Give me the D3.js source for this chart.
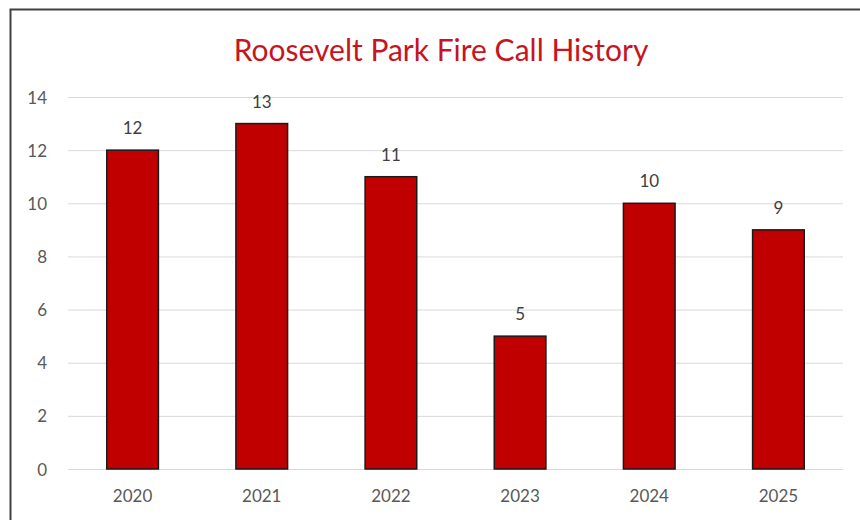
<!DOCTYPE html>
<html>
<head>
<meta charset="utf-8">
<script src="https://cdn.jsdelivr.net/npm/d3@7"></script>
<style>
  html, body { margin: 0; padding: 0; background: #fff; }
  svg { display: block; }
</style>
</head>
<body>
<svg id="chart" width="860" height="520"></svg>
<script>
// Fire calls per year at Roosevelt Park
const years = ["2020", "2021", "2022", "2023", "2024", "2025"];
const calls = [12, 13, 11, 5, 10, 9];
const yTicks = [0, 2, 4, 6, 8, 10, 12, 14];
const title = "Roosevelt Park Fire Call History";

const svg = d3.select("#chart");
const W = 860, H = 520;
const font = "Lato, 'Open Sans', sans-serif";

// chart frame
svg.append("rect")
  .attr("x", 10.5).attr("y", 9.5)
  .attr("width", W + 10).attr("height", H + 10)
  .attr("fill", "#fff")
  .attr("stroke", "#404040")
  .attr("stroke-width", 2);

const plot = { left: 68, right: 843, top: 97, bottom: 469 };

const x = d3.scaleBand()
  .domain(years)
  .range([plot.left, plot.right])
  .paddingInner(0.6)
  .paddingOuter(0.3);

const y = d3.scaleLinear()
  .domain([0, 14])
  .range([plot.bottom, plot.top]);

// horizontal gridlines
svg.append("g")
  .selectAll("line")
  .data(yTicks)
  .join("line")
  .attr("x1", plot.left).attr("x2", plot.right)
  .attr("y1", d => y(d) + 0.5).attr("y2", d => y(d) + 0.5)
  .attr("stroke", "#d9d9d9")
  .attr("stroke-width", 1);

// y axis labels
const yAxis = d3.axisLeft(y).tickValues(yTicks).tickSize(0).tickPadding(0);
const gy = svg.append("g")
  .attr("transform", `translate(${plot.left - 21},0)`)
  .call(yAxis);
gy.select(".domain").remove();
gy.selectAll("text")
  .attr("font-family", font)
  .attr("font-size", 17)
  .attr("dy", "0.36em")
  .attr("fill", "#595959");

// x axis labels
const xAxis = d3.axisBottom(x).tickSize(0).tickPadding(0);
const gx = svg.append("g")
  .attr("transform", `translate(0,${plot.bottom + 21})`)
  .call(xAxis);
gx.select(".domain").remove();
gx.selectAll("text")
  .attr("font-family", font)
  .attr("font-size", 17)
  .attr("fill", "#595959");

// bars
svg.append("g")
  .selectAll("rect")
  .data(years.map((yr, i) => ({ yr, v: calls[i] })))
  .join("rect")
  .attr("x", d => x(d.yr))
  .attr("y", d => y(d.v))
  .attr("width", x.bandwidth())
  .attr("height", d => y(0) - y(d.v))
  .attr("fill", "#C00000")
  .attr("stroke", "#1a1a1a")
  .attr("stroke-width", 1.5);

// value labels
svg.append("g")
  .selectAll("text")
  .data(years.map((yr, i) => ({ yr, v: calls[i] })))
  .join("text")
  .attr("x", d => x(d.yr) + x.bandwidth() / 2)
  .attr("y", d => y(d.v) - 16)
  .attr("text-anchor", "middle")
  .attr("font-family", font)
  .attr("font-size", 17)
  .attr("fill", "#404040")
  .text(d => d.v);

// title
svg.append("text")
  .attr("x", 441)
  .attr("y", 61)
  .attr("text-anchor", "middle")
  .attr("font-family", font)
  .attr("font-size", 30)
  .attr("fill", "#C8141E")
  .text(title);
</script>
</body>
</html>
